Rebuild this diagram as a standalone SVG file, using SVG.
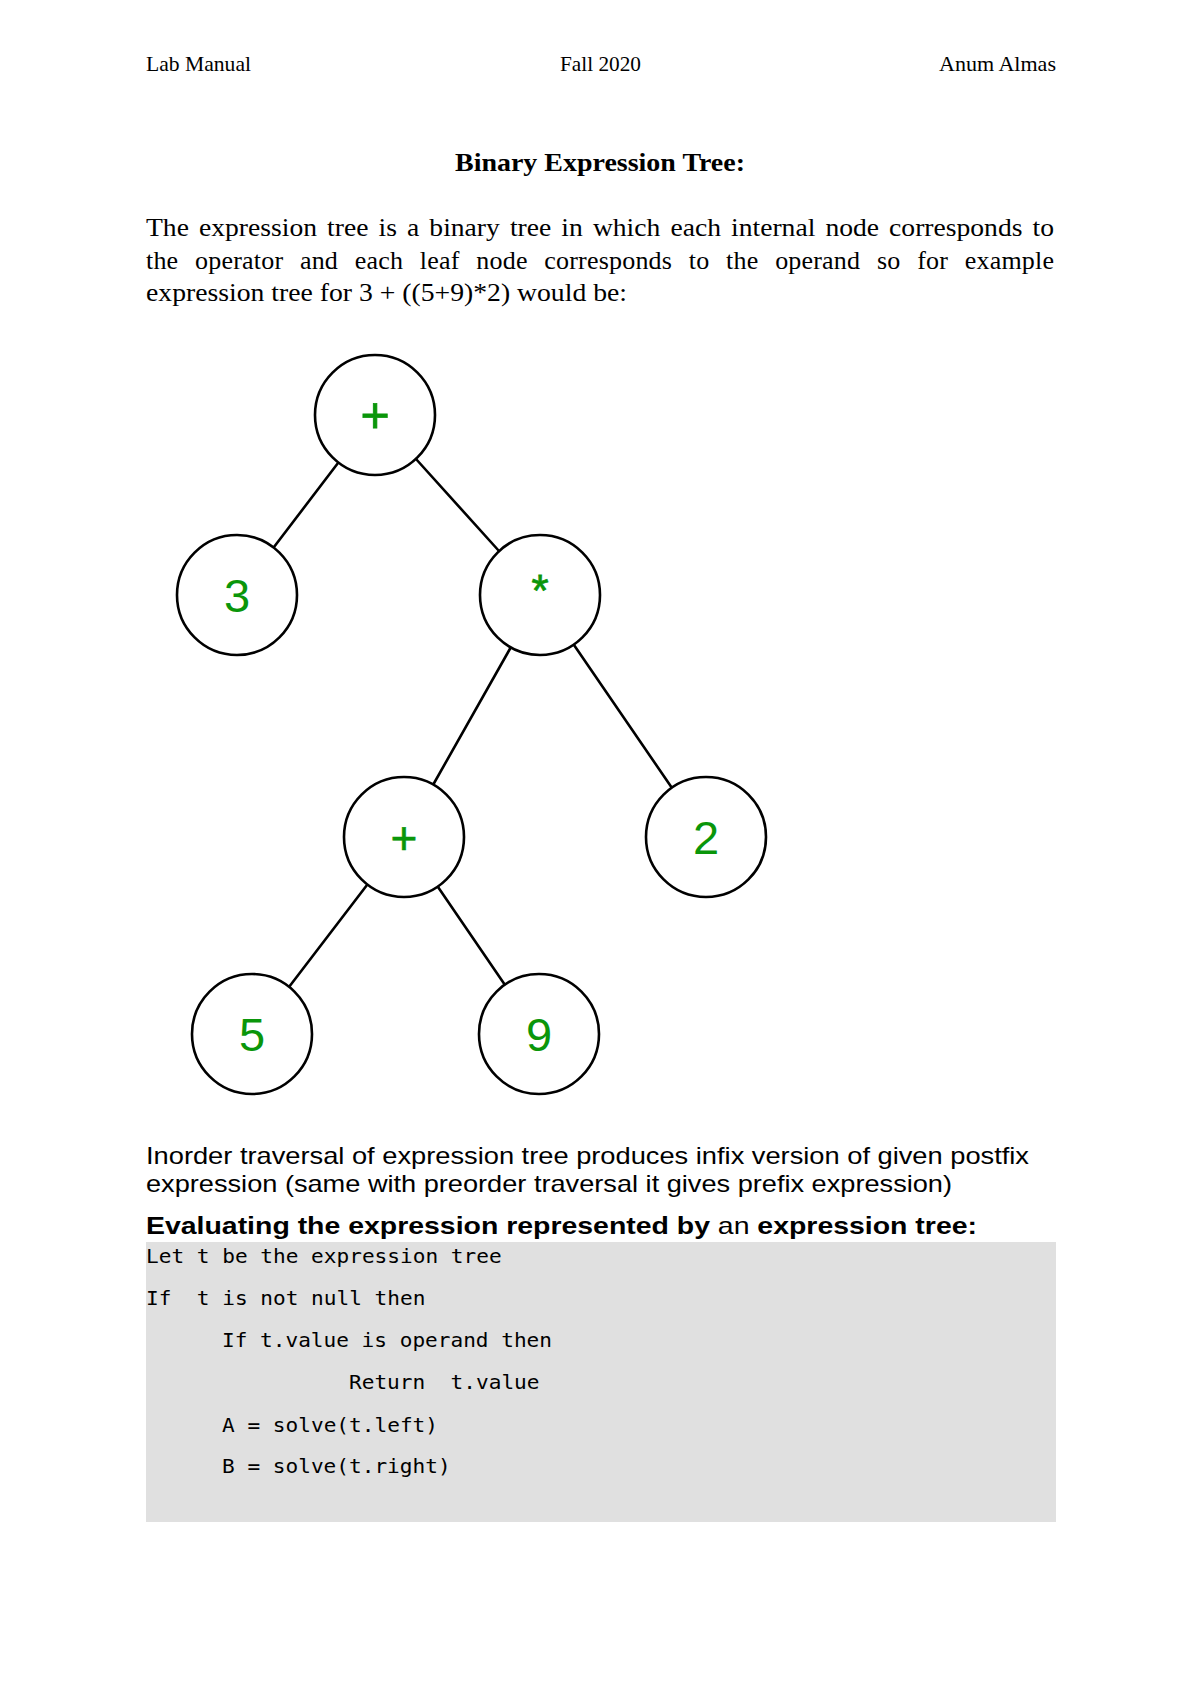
<svg xmlns="http://www.w3.org/2000/svg" width="1200" height="1698" viewBox="0 0 1200 1698">
<style>
.hdr{font-family:"Liberation Serif",serif;font-size:22px;fill:#000}
.ser{font-family:"Liberation Serif",serif;font-size:26px;fill:#000}
.ttl{font-family:"Liberation Serif",serif;font-size:25px;font-weight:bold;fill:#000}
.sans{font-family:"Liberation Sans",sans-serif;font-size:24px;fill:#000}
.bold{font-weight:bold}
.mono{font-family:"DejaVu Sans Mono",monospace;font-size:19px;fill:#000}
.node circle{fill:#fff;stroke:#000;stroke-width:2.6}
.lbl{font-family:"Liberation Sans",Arial,sans-serif;fill:#0a960a;text-anchor:middle}
.dig{font-size:47px}
.op{font-size:44px}
#edges line{stroke:#000;stroke-width:2.6;stroke-linecap:round}
</style>
<rect width="1200" height="1698" fill="#fff"/>
<text class="hdr" x="146" y="71" textLength="105" lengthAdjust="spacingAndGlyphs">Lab Manual</text>
<text class="hdr" x="560" y="71" textLength="81" lengthAdjust="spacingAndGlyphs">Fall 2020</text>
<text class="hdr" x="939" y="71" textLength="117" lengthAdjust="spacingAndGlyphs">Anum Almas</text>
<text class="ttl" x="455" y="171" textLength="290" lengthAdjust="spacingAndGlyphs">Binary Expression Tree:</text>
<text class="ser" x="146" y="236" textLength="908" lengthAdjust="spacingAndGlyphs" word-spacing="3">The expression tree is a binary tree in which each internal node corresponds to</text>
<text class="ser" x="146" y="269" textLength="908" lengthAdjust="spacing" word-spacing="10">the operator and each leaf node corresponds to the operand so for example</text>
<text class="ser" x="146" y="301" textLength="481" lengthAdjust="spacingAndGlyphs">expression tree for 3 + ((5+9)*2) would be:</text>
<g id="edges">
<line x1="338" y1="463" x2="274" y2="547"/>
<line x1="416" y1="459" x2="499" y2="551"/>
<line x1="511" y1="647" x2="433" y2="785"/>
<line x1="574" y1="645" x2="672" y2="788"/>
<line x1="367" y1="885" x2="289" y2="987"/>
<line x1="438" y1="887" x2="505" y2="985"/>
</g>
<g id="n-root" class="node"><circle cx="375" cy="415" r="60"/><text class="lbl" x="375" y="432" font-size="50" stroke="#0a960a" stroke-width="0.8">+</text></g>
<g id="n-3" class="node"><circle cx="237" cy="595" r="60"/><text class="lbl dig" x="237" y="612">3</text></g>
<g id="n-mul" class="node"><circle cx="540" cy="595" r="60"/><text class="lbl op" x="540" y="606" stroke="#0a960a" stroke-width="0.8">*</text></g>
<g id="n-plus2" class="node"><circle cx="404" cy="837" r="60"/><text class="lbl" x="404" y="854" font-size="46" stroke="#0a960a" stroke-width="0.6">+</text></g>
<g id="n-2" class="node"><circle cx="706" cy="837" r="60"/><text class="lbl dig" x="706" y="854">2</text></g>
<g id="n-5" class="node"><circle cx="252" cy="1034" r="60"/><text class="lbl dig" x="252" y="1051">5</text></g>
<g id="n-9" class="node"><circle cx="539" cy="1034" r="60"/><text class="lbl dig" x="539" y="1051">9</text></g>
<text class="sans" x="146" y="1164" textLength="883" lengthAdjust="spacingAndGlyphs">Inorder traversal of expression tree produces infix version of given postfix</text>
<text class="sans" x="146" y="1192" textLength="806" lengthAdjust="spacingAndGlyphs">expression (same with preorder traversal it gives prefix expression)</text>
<text class="sans" x="146" y="1234" textLength="831" lengthAdjust="spacingAndGlyphs"><tspan class="bold">Evaluating the expression represented by</tspan> an <tspan class="bold">expression tree:</tspan></text>
<rect x="146" y="1242" width="910" height="280" fill="#e0e0e0"/>
<text class="mono" x="146" y="1263" textLength="355.6" lengthAdjust="spacingAndGlyphs" xml:space="preserve">Let t be the expression tree</text>
<text class="mono" x="146" y="1305" textLength="279.4" lengthAdjust="spacingAndGlyphs" xml:space="preserve">If  t is not null then</text>
<text class="mono" x="222" y="1347" textLength="330" lengthAdjust="spacingAndGlyphs" xml:space="preserve">If t.value is operand then</text>
<text class="mono" x="349" y="1389" textLength="190.5" lengthAdjust="spacingAndGlyphs" xml:space="preserve">Return  t.value</text>
<text class="mono" x="222" y="1432" textLength="216" lengthAdjust="spacingAndGlyphs" xml:space="preserve">A = solve(t.left)</text>
<text class="mono" x="222" y="1473" textLength="228.6" lengthAdjust="spacingAndGlyphs" xml:space="preserve">B = solve(t.right)</text>
</svg>
